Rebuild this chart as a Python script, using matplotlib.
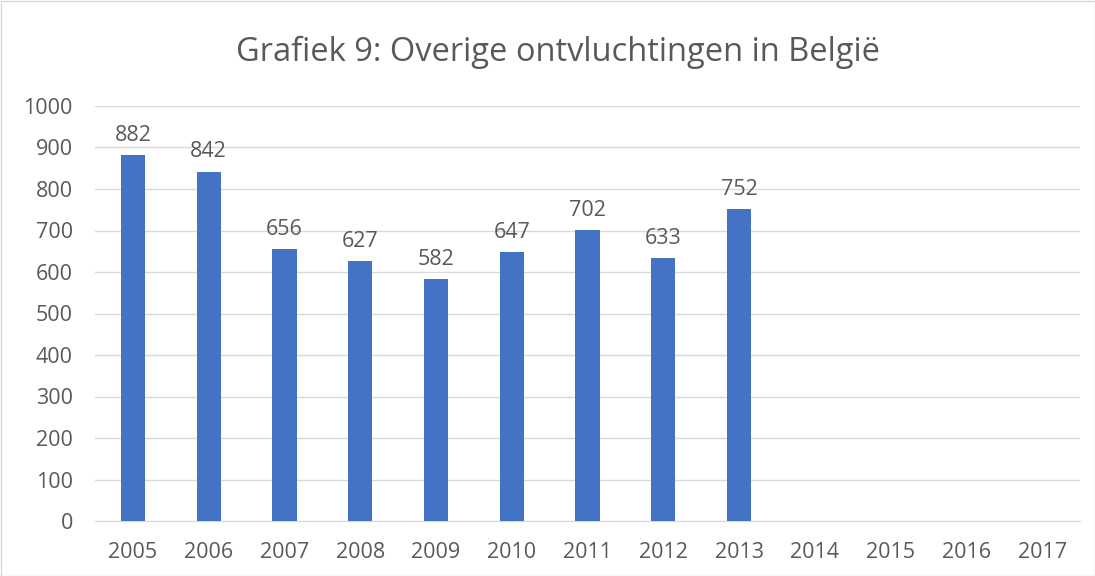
import matplotlib
matplotlib.use("Agg")
import matplotlib.pyplot as plt
from matplotlib.patches import Rectangle

years = ["2005", "2006", "2007", "2008", "2009", "2010", "2011", "2012", "2013",
         "2014", "2015", "2016", "2017"]
values = [882, 842, 656, 627, 582, 647, 702, 633, 752]
yticks = [0, 100, 200, 300, 400, 500, 600, 700, 800, 900, 1000]
title = "Grafiek 9: Overige ontvluchtingen in België"

plt.rcParams['font.family'] = ['Open Sans', 'DejaVu Sans']
txt = '#595959'
fig = plt.figure(figsize=(10.95, 5.76), dpi=100)
ax = fig.add_axes([95/1095, 1-521/576, 985/1095, 415/576])

x = list(range(len(years)))
ax.bar(x[:len(values)], values, width=0.32, color='#4472c4', zorder=3)
for xi, v in zip(x, values):
    ax.text(xi, v + 22, str(v), ha='center', va='bottom', fontsize=15.5, color=txt)

ax.set_xlim(-0.5, len(years) - 0.5)
ax.set_ylim(0, 1000)
ax.set_xticks(x)
ax.set_xticklabels(years)
ax.set_yticks(yticks)
ax.grid(axis='y', color='#d9d9d9', linewidth=1, zorder=0)
for s in ['top', 'right', 'left']:
    ax.spines[s].set_visible(False)
ax.spines['bottom'].set_color('#d9d9d9')
ax.tick_params(axis='both', length=0, labelsize=15.5, colors=txt)
ax.tick_params(axis='x', pad=15)
ax.tick_params(axis='y', pad=16)

fig.text(558/1095, 1-52/576, title, ha='center', va='center', fontsize=23.5, color=txt)
fig.patches.append(Rectangle((0.5/1095, 0.5/576), 1-1/1095, 1-1/576, transform=fig.transFigure,
                             fill=False, edgecolor='#d9d9d9', linewidth=1))
fig.savefig('out.png', dpi=100)
